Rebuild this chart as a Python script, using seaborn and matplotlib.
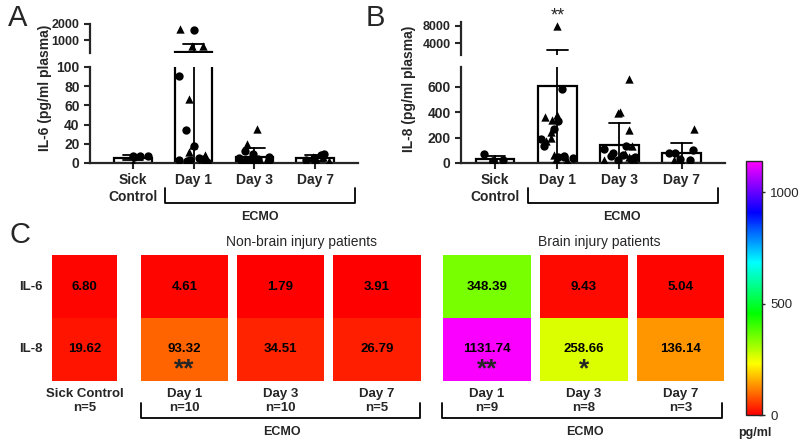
import numpy as np
import pandas as pd
import matplotlib
matplotlib.use("Agg")
import matplotlib.pyplot as plt
import seaborn as sns
from matplotlib.colors import hsv_to_rgb, ListedColormap

# ---- data ----
groups = ["Sick\nControl", "Day 1", "Day 3", "Day 7"]

# panel A: IL-6, circles / triangles per group
il6_circles = [
    [7, 7, 6, 7],
    [1600, 91, 34, 18, 5, 4, 3, 3, 2, 1],
    [13, 9, 6, 5, 4, 3, 2, 2, 1, 1, 0.5],
    [9, 8, 5, 3, 1],
]
il6_triangles = [
    [0.5],
    [1700, 600, 600, 67, 19, 11, 8, 4, 2],
    [35, 20, 7, 5, 3, 2, 1],
    [6, 6, 2],
]

# panel B: IL-8
il8_circles = [
    [70, 20, 15, 18],
    [580, 330, 265, 190, 130, 55, 50, 45, 40],
    [135, 110, 80, 60, 55, 45, 40, 30, 25],
    [100, 80, 75, 30, 25],
]
il8_triangles = [
    [15],
    [8000, 380, 360, 340, 240, 200, 170, 60, 30, 20],
    [660, 400, 390, 260, 130, 70, 50, 35, 20],
    [270, 20, 15],
]

# panel C: heatmap means (pg/ml)
rows = ["IL-6", "IL-8"]
sick_label = ["Sick Control\nn=5"]
sick_il6 = [6.80]
sick_il8 = [19.62]
nonbrain_labels = ["Day 1\nn=10", "Day 3\nn=10", "Day 7\nn=5"]
nonbrain_il6 = [4.61, 1.79, 3.91]
nonbrain_il8 = [93.32, 34.51, 26.79]
nonbrain_stars = ["**", "", ""]
brain_labels = ["Day 1\nn=9", "Day 3\nn=8", "Day 7\nn=3"]
brain_il6 = [348.39, 9.43, 5.04]
brain_il8 = [1131.74, 258.66, 136.14]
brain_stars = ["**", "*", ""]
cbar_ticks = [0, 500, 1000]
vmax = 1140

np.random.seed(7)
sns.set_style("ticks")
plt.rcParams["font.family"] = ["Liberation Sans", "DejaVu Sans"]

W, H = 800, 441
fig = plt.figure(figsize=(8, 4.41), dpi=100)


def px_axes(x0, y0, x1, y1):
    return fig.add_axes([x0 / W, 1 - y1 / H, (x1 - x0) / W, (y1 - y0) / H])


def long_frame(circles, triangles):
    recs = []
    for g, cs, ts in zip(groups, circles, triangles):
        recs += [(g, v, "o") for v in cs]
        recs += [(g, v, "^") for v in ts]
    return pd.DataFrame(recs, columns=["group", "value", "shape"])


def bar_panel(ax_top, ax_bot, circles, triangles, top_lim, bot_lim, top_ticks, bot_ticks, xlim):
    df = long_frame(circles, triangles)
    for ax, lim in ((ax_top, top_lim), (ax_bot, bot_lim)):
        sns.barplot(data=df, x="group", y="value", order=groups, errorbar="sd",
                    capsize=0.33, width=0.62, color="white", edgecolor="black",
                    linewidth=1.6, err_kws={"color": "black", "linewidth": 1.3}, ax=ax)
        # only the points that belong to this piece of the broken axis
        span = (lim[1] - lim[0]) * 0.03
        part = df[(df["value"] >= lim[0] - span) & (df["value"] <= lim[1] + span)]
        for mk in ["o", "^"]:
            sub = part[part["shape"] == mk]
            if len(sub):
                sns.stripplot(data=sub, x="group", y="value", order=groups,
                              marker=mk, color="black", size=6, jitter=0.27, ax=ax)
        for art in ax.collections + ax.lines + ax.patches:
            art.set_clip_on(True)
            art.set_clip_path(ax.patch)
        ax.set_xlim(*xlim)
        ax.set_ylim(*lim)
        ax.set_xlabel("")
        ax.set_ylabel("")
        for s in ["top", "right"]:
            ax.spines[s].set_visible(False)
        ax.spines["left"].set_linewidth(1.6)
        ax.spines["bottom"].set_linewidth(1.6)
        ax.tick_params(width=1.5, length=4)
    ax_top.set_yticks(top_ticks)
    ax_top.spines["bottom"].set_visible(False)
    ax_top.tick_params(bottom=False, labelbottom=False)
    ax_bot.set_yticks(bot_ticks)
    for lab in ax_top.get_yticklabels():
        lab.set_fontweight("bold")
        lab.set_fontsize(9)
    for lab in ax_bot.get_yticklabels() + ax_bot.get_xticklabels():
        lab.set_fontweight("bold")
        lab.set_fontsize(10)


# ---- panels A and B ----
a_top = px_axes(90, 24, 358, 53)
a_bot = px_axes(90, 67, 358, 163)
bar_panel(a_top, a_bot, il6_circles, il6_triangles, (190, 2000), (0, 100),
          [1000, 2000], [0, 20, 40, 60, 80, 100], (-0.7, 3.7))

b_top = px_axes(461, 22, 725, 55)
b_bot = px_axes(461, 67, 725, 163)
bar_panel(b_top, b_bot, il8_circles, il8_triangles, (1180, 8940), (0, 755),
          [4000, 8000], [0, 200, 400, 600], (-0.55, 3.7))

# ---- panel C heatmaps ----
hues = np.linspace(0, 5 / 6, 256)
cmap = ListedColormap(hsv_to_rgb(np.column_stack([hues, np.ones(256), np.ones(256)])))

cells = [(52, 117)] + [(141, 228), (237, 324), (333, 421)] + [(443, 531), (540, 628), (637, 724)]
labels = sick_label + nonbrain_labels + brain_labels
il6_all = sick_il6 + nonbrain_il6 + brain_il6
il8_all = sick_il8 + nonbrain_il8 + brain_il8
stars_all = [""] + nonbrain_stars + brain_stars

for i, ((x0, x1), lab) in enumerate(zip(cells, labels)):
    ax = px_axes(x0, 255, x1, 381)
    frame = pd.DataFrame({lab: [il6_all[i], il8_all[i]]}, index=rows)
    sns.heatmap(frame, cmap=cmap, vmin=0, vmax=vmax, annot=True, fmt=".2f",
                annot_kws={"color": "black", "fontweight": "bold", "fontsize": 9.5},
                cbar=False, ax=ax)
    if stars_all[i]:
        ax.text(0.5, 1.82, stars_all[i], ha="center", va="center",
                fontsize=19, fontweight="bold")
    ax.tick_params(length=0, pad=5)
    for t in ax.get_xticklabels():
        t.set_fontweight("bold")
        t.set_fontsize(9.5)
    if i == 0:
        ax.set_yticklabels(rows, rotation=0, fontweight="bold", fontsize=9.5)
        ax.tick_params(axis="y", pad=7)
    else:
        ax.set_yticks([])
    mappable = ax.collections[0]

cax = px_axes(746, 161, 762, 415)
cb = fig.colorbar(mappable, cax=cax, ticks=cbar_ticks)
cb.outline.set_linewidth(1)
cax.tick_params(direction="inout", length=5, width=1, labelsize=9.5)

# ---- overlay for brackets and labels ----
ov = fig.add_axes([0, 0, 1, 1])
ov.set_xlim(0, W)
ov.set_ylim(H, 0)
ov.axis("off")


def bracket(x0, x1, ytop, ybot, label, lx, ly):
    ov.plot([x0, x0, x1, x1], [ytop, ybot, ybot, ytop], color="black", lw=1.3)
    ov.text(lx, ly, label, ha="center", va="center", fontsize=9, fontweight="bold")


bracket(165, 355, 188, 203, "ECMO", 260, 217)
bracket(528, 718, 188, 203, "ECMO", 622, 217)
bracket(141, 420, 403, 418, "ECMO", 282, 432)
bracket(442, 722, 403, 418, "ECMO", 585, 432)

ov.text(18, 18, "A", ha="center", va="center", fontsize=21)
ov.text(375, 18, "B", ha="center", va="center", fontsize=21)
ov.text(20, 235, "C", ha="center", va="center", fontsize=21)
ov.text(45, 88, "IL-6 (pg/ml plasma)", rotation=90, ha="center", va="center",
        fontsize=10, fontweight="bold")
ov.text(409, 89, "IL-8 (pg/ml plasma)", rotation=90, ha="center", va="center",
        fontsize=10, fontweight="bold")
ov.text(558, 16, "**", ha="center", va="center", fontsize=13)
ov.text(301, 242, "Non-brain injury patients", ha="center", va="center", fontsize=10)
ov.text(599, 242, "Brain injury patients", ha="center", va="center", fontsize=10)
ov.text(755, 433, "pg/ml", ha="center", va="center", fontsize=9, fontweight="bold")

fig.savefig("out.png", dpi=100)
plt.close(fig)
